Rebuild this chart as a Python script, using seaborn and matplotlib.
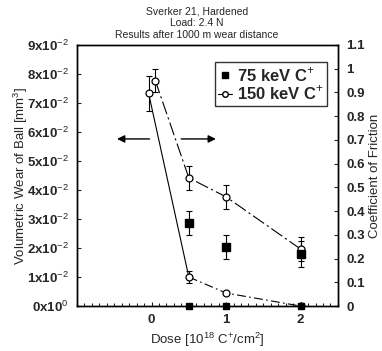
import numpy as np
import pandas as pd
import matplotlib
matplotlib.use("Agg")
import matplotlib.pyplot as plt
import seaborn as sns
from matplotlib.ticker import MultipleLocator, FuncFormatter

# wear of ball (left axis), 150 keV series incl. untreated reference
wear150_dose = [-0.04, 0.5, 1, 2]
wear150 = [7.34e-2, 1.0e-2, 0.45e-2, 0.0]
wear150_err = [0.6e-2, 0.2e-2, 0.0, 0.0]
wear75_dose = [0.5, 1, 2]
wear75 = [0.0, 0.0, 0.0]

# friction coefficient (right axis)
fric150_dose = [0.05, 0.5, 1, 2]
fric150 = [0.95, 0.54, 0.46, 0.24]
fric150_err = [0.05, 0.05, 0.05, 0.05]
fric75_dose = [0.5, 1, 2]
fric75 = [0.35, 0.25, 0.22]
fric75_err = [0.05, 0.05, 0.055]

wear_df = pd.DataFrame({"dose": wear150_dose, "wear": wear150})
fric_df = pd.DataFrame({"dose": fric150_dose, "fric": fric150})

sns.set_theme(style="ticks")
plt.rcParams['font.family'] = ['Liberation Sans', 'DejaVu Sans']
plt.rcParams['mathtext.fontset'] = 'custom'
plt.rcParams['mathtext.rm'] = 'Liberation Sans'
plt.rcParams['mathtext.bf'] = 'Liberation Sans:bold'

fig = plt.figure(figsize=(3.82, 3.51), dpi=100)
ax = fig.add_axes([0.2016, 0.128, 0.683, 0.744])
ax2 = ax.twinx()

# wear curve: solid to 0.5, then dash-dot
sns.lineplot(data=wear_df.iloc[:2], x="dose", y="wear", ax=ax, color="black", lw=0.8)
sns.lineplot(data=wear_df.iloc[1:], x="dose", y="wear", ax=ax, color="black", lw=0.8,
             linestyle=(0, (8, 3, 1.5, 3)))
ax.errorbar(wear150_dose, wear150, yerr=wear150_err, fmt='none', ecolor='black',
            elinewidth=0.8, capsize=2, capthick=0.8)
ax.plot(wear150_dose, wear150, 'o', mfc='white', mec='black', ms=5, mew=0.9, zorder=5)
ax.plot(wear75_dose, wear75, 's', color='black', ms=5, zorder=6, clip_on=False)

# friction curve
sns.lineplot(data=fric_df, x="dose", y="fric", ax=ax2, color="black", lw=0.8,
             linestyle=(0, (12, 3, 2, 3)))
ax2.errorbar(fric150_dose, fric150, yerr=fric150_err, fmt='none', ecolor='black',
             elinewidth=0.8, capsize=2, capthick=0.8)
ax2.errorbar(fric75_dose, fric75, yerr=fric75_err, fmt='none', ecolor='black',
             elinewidth=0.8, capsize=2, capthick=0.8)
ax2.plot(fric150_dose, fric150, 'o', mfc='white', mec='black', ms=5, mew=0.9, zorder=5)
ax2.plot(fric75_dose, fric75, 's', color='black', ms=6, zorder=6)

ax.set_xlim(-1, 2.5)
ax.set_ylim(0, 9e-2)
ax2.set_ylim(0, 1.1)

ax.xaxis.set_minor_locator(MultipleLocator(0.1))
ax.set_xticks([0, 1, 2])
ax.yaxis.set_major_locator(MultipleLocator(1e-2))
ax2.yaxis.set_major_locator(MultipleLocator(0.1))


def sci(v, pos):
    n = int(round(v * 100))
    if n == 0:
        return r'0x10$^{0}$'
    return r'%dx10$^{-2}$' % n


def plain(v, pos):
    s = '%.1f' % v
    if s.endswith('.0'):
        s = s[:-2]
    return s


ax.yaxis.set_major_formatter(FuncFormatter(sci))
ax2.yaxis.set_major_formatter(FuncFormatter(plain))

for a in (ax, ax2):
    a.tick_params(axis='both', which='both', direction='in', length=3, width=0.8,
                  labelsize=9.5, pad=6)
    a.tick_params(which='minor', length=2)
    for s in a.spines.values():
        s.set_linewidth(1.0)
        s.set_color('black')
for lab in ax.get_yticklabels() + ax.get_xticklabels() + ax2.get_yticklabels():
    lab.set_fontweight('bold')

ax.set_xlabel(r'Dose [10$^{18}$ C$^{+}$/cm$^{2}$]', fontsize=9.5, labelpad=3)
ax.set_ylabel(r'Volumetric Wear of Ball [mm$^{3}$]', fontsize=9.5, labelpad=-2)
ax2.set_ylabel('Coefficient of Friction', fontsize=9.5, labelpad=3)

fig.suptitle('Sverker 21, Hardened\nLoad: 2.4 N\nResults after 1000 m wear distance',
             x=0.516, y=0.982, fontsize=7.5, linespacing=1.2)

# arrows pointing to the relevant axes
ax.annotate('', xy=(-0.5, 5.76e-2), xytext=(0.01, 5.76e-2),
            arrowprops=dict(arrowstyle='-|>', color='black', lw=1.0, mutation_scale=11))
ax.annotate('', xy=(0.9, 5.76e-2), xytext=(0.36, 5.76e-2),
            arrowprops=dict(arrowstyle='-|>', color='black', lw=1.0, mutation_scale=11))

# legend
h1 = plt.Line2D([], [], marker='s', color='black', ls='none', ms=4)
h2 = plt.Line2D([], [], marker='o', mfc='white', mec='black', color='black', ls='-',
                lw=0.8, ms=4)
leg = ax.legend([h1, h2], [r'75 keV C$^{+}$', r'150 keV C$^{+}$'], loc='upper right',
                bbox_to_anchor=(0.958, 0.935), borderaxespad=0, frameon=True,
                fancybox=False, handlelength=0.8, handletextpad=0.3, borderpad=0.2,
                labelspacing=0.0, prop={'size': 12, 'weight': 'bold'})
leg.get_frame().set_edgecolor('black')
leg.get_frame().set_linewidth(1.0)

fig.savefig('out.png', dpi=100)
